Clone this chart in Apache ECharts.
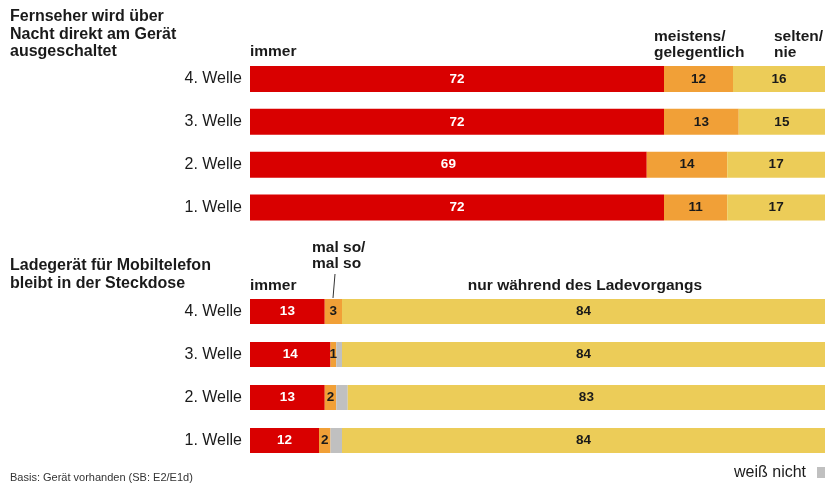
<!DOCTYPE html>
<html>
<head>
<meta charset="utf-8">
<script src="https://cdn.jsdelivr.net/npm/echarts@6/dist/echarts.min.js"></script>
<style>
  html, body { margin: 0; padding: 0; background: #fff; }
  #chart { width: 825px; height: 484px; }
</style>
</head>
<body>
<div id="chart"></div>
<script>
// Survey waves, listed bottom-up for the category axis
const waves = ['1. Welle', '2. Welle', '3. Welle', '4. Welle'];

// TV switched off at the device overnight (percent)
const tvAlways = [72, 69, 72, 72];
const tvSometimes = [11, 14, 13, 12];
const tvRarely = [17, 17, 15, 16];

// Phone charger stays plugged in (percent)
const chAlways = [12, 13, 14, 13];
const chSometimes = [2, 2, 1, 3];
const chDontKnow = [2, 2, 1, 0];
const chOnlyCharging = [84, 83, 84, 84];

const RED = '#D90000', ORANGE = '#F1A037', YELLOW = '#ECCC58', GREY = '#C0C0C0';
const FONT = '"Liberation Sans", Arial, sans-serif';
const INK = '#1a1a1a';

const chart = echarts.init(document.getElementById('chart'), null, { renderer: 'canvas' });

function bar(name, data, color, stack, axis, width, labelColor, showLabel) {
  return {
    name, type: 'bar', stack, data,
    xAxisIndex: axis, yAxisIndex: axis,
    barWidth: width,
    itemStyle: { color },
    emphasis: { disabled: true },
    label: {
      show: showLabel,
      position: 'inside',
      color: labelColor,
      fontFamily: FONT,
      fontWeight: 'bold',
      fontSize: 13.5,
      formatter: p => (p.value > 0 ? p.value : '')
    }
  };
}

const yAxisCommon = {
  type: 'category',
  data: waves,
  axisLine: { show: false },
  axisTick: { show: false },
  splitLine: { show: false },
  axisLabel: { color: INK, fontFamily: FONT, fontSize: 16, margin: 8 }
};
const xAxisCommon = { type: 'value', min: 0, max: 100, show: false };

function txt(x, y, text, opts) {
  return {
    type: 'text', x, y, silent: true,
    style: Object.assign({
      text, fill: INK, font: 'bold 15.5px ' + FONT,
      verticalAlign: 'middle', align: 'left'
    }, opts || {})
  };
}

chart.setOption({
  animation: false,
  backgroundColor: '#fff',
  grid: [
    { left: 250, right: 0, top: 57.6, height: 171.3 },
    { left: 250, right: 0, top: 290, height: 172 }
  ],
  xAxis: [Object.assign({ gridIndex: 0 }, xAxisCommon), Object.assign({ gridIndex: 1 }, xAxisCommon)],
  yAxis: [Object.assign({ gridIndex: 0 }, yAxisCommon), Object.assign({ gridIndex: 1 }, yAxisCommon)],
  series: [
    bar('immer', tvAlways, RED, 'tv', 0, 26, '#fff', true),
    bar('meistens/gelegentlich', tvSometimes, ORANGE, 'tv', 0, 26, INK, true),
    bar('selten/nie', tvRarely, YELLOW, 'tv', 0, 26, INK, true),
    bar('immer', chAlways, RED, 'ch', 1, 25, '#fff', true),
    bar('mal so/mal so', chSometimes, ORANGE, 'ch', 1, 25, INK, true),
    bar('weiß nicht', chDontKnow, GREY, 'ch', 1, 25, INK, false),
    bar('nur während des Ladevorgangs', chOnlyCharging, YELLOW, 'ch', 1, 25, INK, true)
  ],
  graphic: [
    // section headings
    txt(10, 34.5, 'Fernseher wird über\nNacht direkt am Gerät\nausgeschaltet', { font: 'bold 16px ' + FONT, lineHeight: 17.5 }),
    txt(10, 275, 'Ladegerät für Mobiltelefon\nbleibt in der Steckdose', { font: 'bold 16px ' + FONT, lineHeight: 18 }),
    // column headings, upper block
    txt(250, 52, 'immer'),
    txt(654, 45, 'meistens/\ngelegentlich', { lineHeight: 16 }),
    txt(774, 45, 'selten/\nnie', { lineHeight: 16 }),
    // column headings, lower block
    txt(312, 255.5, 'mal so/\nmal so', { lineHeight: 15.5 }),
    { type: 'line', silent: true, shape: { x1: 335, y1: 274, x2: 333, y2: 298 }, style: { stroke: '#333', lineWidth: 1 } },
    txt(250, 285.5, 'immer'),
    txt(585, 286, 'nur während des Ladevorgangs', { align: 'center' }),
    // footer
    txt(10, 478, 'Basis: Gerät vorhanden (SB: E2/E1d)', { font: '11px ' + FONT, fill: '#333' }),
    txt(734, 473, 'weiß nicht', { font: '16px ' + FONT }),
    { type: 'rect', silent: true, shape: { x: 817, y: 467, width: 8, height: 11 }, style: { fill: GREY } }
  ]
});
</script>
</body>
</html>
